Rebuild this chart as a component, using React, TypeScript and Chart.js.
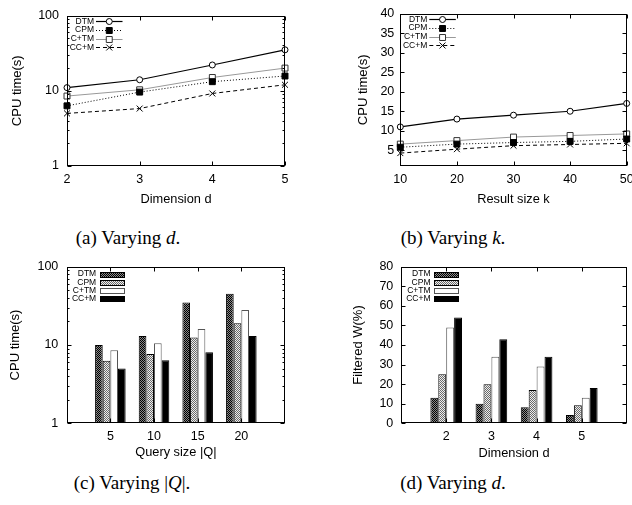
import React, { useEffect, useRef } from 'react';
import { Chart, registerables } from 'chart.js';

Chart.register(...registerables);

const FONT = "'Liberation Sans', Arial, Helvetica, sans-serif";
Chart.defaults.font.family = FONT;
Chart.defaults.color = '#000';

// ---------- data ----------
const seriesNames = ['DTM', 'CPM', 'C+TM', 'CC+M'];

// (a) Varying d
const dimValues = [2, 3, 4, 5];
const aDTM = [11, 14, 22, 35];
const aCPM = [6.3, 9.6, 13.2, 15.7];
const aCTM = [8.5, 10.3, 15, 20];
const aCCM = [5, 5.8, 9.2, 12];

// (b) Varying k
const kValues = [10, 20, 30, 40, 50];
const bDTM = [11, 13, 14, 15, 17];
const bCPM = [5.8, 6.6, 7, 7.3, 7.9];
const bCTM = [6.6, 7.5, 8.4, 8.8, 9.2];
const bCCM = [4.3, 5.3, 6.2, 6.5, 6.8];

// (c) Varying |Q|
const queryLabels = ['5', '10', '15', '20'];
const cDTM = [10, 13, 35, 45];
const cCPM = [6.3, 7.7, 12.5, 19];
const cCTM = [8.6, 10.5, 16, 28];
const cCCM = [5, 6.4, 8.1, 13];

// (d) Varying d (filtered)
const dimLabels = ['2', '3', '4', '5'];
const dDTM = [13, 10, 8.2, 4.2];
const dCPM = [25, 20, 17, 9.2];
const dCTM = [49, 34, 29, 13];
const dCCM = [54, 43, 34, 18];

// tick labels
const logTicks = [1, 10, 100];
const kTicks = [5, 10, 15, 20, 25, 30, 35, 40];
const pctTicks = [0, 10, 20, 30, 40, 50, 60, 70, 80];

// ---------- styles ----------
const lineStyles = [
  { borderColor: '#000', borderWidth: 1.2, borderDash: [], pointStyle: 'circle', pointRadius: 3, pointBackgroundColor: '#fff', pointBorderColor: '#000' },
  { borderColor: '#000', borderWidth: 1, borderDash: [1, 2], pointStyle: 'rect', pointRadius: 4.2, pointBackgroundColor: '#000', pointBorderColor: '#000' },
  { borderColor: '#999', borderWidth: 1, borderDash: [], pointStyle: 'rect', pointRadius: 4.2, pointBackgroundColor: '#fff', pointBorderColor: '#333' },
  { borderColor: '#000', borderWidth: 1, borderDash: [4, 3], pointStyle: 'crossRot', pointRadius: 4.2, pointBackgroundColor: '#000', pointBorderColor: '#000' },
];

function makePattern(c1: string, c2: string): CanvasPattern | string {
  const p = document.createElement('canvas');
  p.width = 2;
  p.height = 2;
  const g = p.getContext('2d');
  if (!g) return c1;
  g.fillStyle = c2;
  g.fillRect(0, 0, 2, 2);
  g.fillStyle = c1;
  g.fillRect(0, 0, 1, 1);
  g.fillRect(1, 1, 1, 1);
  const ctx = document.createElement('canvas').getContext('2d');
  return (ctx && ctx.createPattern(p, 'repeat')) || c1;
}

function drawMarker(ctx: CanvasRenderingContext2D, style: string, x: number, y: number, r: number, fill: string, stroke: string) {
  ctx.save();
  ctx.setLineDash([]);
  ctx.lineWidth = 1;
  ctx.strokeStyle = stroke;
  ctx.fillStyle = fill;
  ctx.beginPath();
  if (style === 'circle') {
    ctx.arc(x, y, r, 0, Math.PI * 2);
    ctx.fill();
    ctx.stroke();
  } else if (style === 'rect') {
    const s = r * Math.SQRT1_2;
    ctx.rect(x - s, y - s, 2 * s, 2 * s);
    ctx.fill();
    ctx.stroke();
  } else {
    const s = r * Math.SQRT1_2;
    ctx.moveTo(x - s, y - s);
    ctx.lineTo(x + s, y + s);
    ctx.moveTo(x - s, y + s);
    ctx.lineTo(x + s, y - s);
    ctx.stroke();
  }
  ctx.restore();
}

// gnuplot-like frame with inward ticks
const framePlugin = {
  id: 'gnuFrame',
  afterDatasetsDraw(chart: any) {
    const { ctx, chartArea: a } = chart;
    const xs = chart.scales.x;
    const ys = chart.scales.y;
    const L = Math.round(a.left) + 0.5;
    const R = Math.round(a.right) - 0.5;
    const T = Math.round(a.top) + 0.5;
    const B = Math.round(a.bottom) - 0.5;
    ctx.save();
    ctx.strokeStyle = '#000';
    ctx.lineWidth = 1;
    ctx.setLineDash([]);
    ctx.beginPath();
    const hTick = (py: number, len: number) => {
      const y = Math.round(py) + 0.5;
      ctx.moveTo(L, y); ctx.lineTo(L + len, y);
      ctx.moveTo(R, y); ctx.lineTo(R - len, y);
    };
    const vTick = (px: number, len: number) => {
      const x = Math.round(px) + 0.5;
      ctx.moveTo(x, B); ctx.lineTo(x, B - len);
      ctx.moveTo(x, T); ctx.lineTo(x, T + len);
    };
    ys.ticks.forEach((t: any) => hTick(ys.getPixelForValue(t.value), 4));
    if (ys.type === 'logarithmic') {
      for (let d = ys.min; d < ys.max; d *= 10) {
        for (let m = 2; m <= 9; m++) hTick(ys.getPixelForValue(d * m), 2);
      }
    }
    xs.ticks.forEach((t: any, i: number) => {
      if (xs.type === 'category') {
        const lab = xs.getLabelForValue(t.value);
        if (lab !== '') vTick(xs.getPixelForTick(i), 4);
      } else {
        vTick(xs.getPixelForValue(t.value), 4);
      }
    });
    ctx.stroke();
    ctx.strokeRect(L, T, R - L, B - T);
    ctx.restore();
  },
};

function legendPlugin(kind: 'line' | 'bar', cfg: { first: number; gap: number; textRight: number; s0: number; s1: number }) {
  return {
    id: 'insideLegend',
    afterDraw(chart: any) {
      const { ctx, chartArea: a } = chart;
      ctx.save();
      ctx.font = `8.5px ${FONT}`;
      ctx.textAlign = 'right';
      ctx.textBaseline = 'middle';
      chart.data.datasets.forEach((ds: any, i: number) => {
        const y = a.top + cfg.first + i * cfg.gap;
        ctx.fillStyle = '#000';
        ctx.fillText(ds.label, a.left + cfg.textRight, y);
        if (kind === 'line') {
          ctx.save();
          ctx.strokeStyle = ds.borderColor;
          ctx.lineWidth = ds.borderWidth;
          ctx.setLineDash(ds.borderDash || []);
          ctx.beginPath();
          ctx.moveTo(a.left + cfg.s0, Math.round(y) + 0.5);
          ctx.lineTo(a.left + cfg.s1, Math.round(y) + 0.5);
          ctx.stroke();
          ctx.restore();
          drawMarker(ctx, ds.pointStyle, a.left + (cfg.s0 + cfg.s1) / 2, Math.round(y) + 0.5, ds.pointRadius, ds.pointBackgroundColor, ds.pointBorderColor);
        } else {
          const x0 = Math.round(a.left + cfg.s0) + 0.5;
          const w = Math.round(cfg.s1 - cfg.s0);
          const y0 = Math.round(y - 2.5) + 0.5;
          ctx.fillStyle = ds.backgroundColor;
          ctx.fillRect(x0, y0, w, 5);
          ctx.strokeStyle = ds.borderColor;
          ctx.lineWidth = 1;
          ctx.strokeRect(x0, y0, w, 5);
        }
      });
      ctx.restore();
    },
  };
}

function setTicks(values: number[]) {
  return (s: any) => {
    s.ticks = values.map((v) => ({ value: v }));
  };
}

function makeScales(o: {
  xType: string; xMin?: number; xMax?: number; xTicks?: number[]; xTitle: string; xHeight: number; xPad: number; xTitlePad: number;
  yType: string; yMin: number; yMax: number; yTicks: number[]; yTitle: string; yWidth: number; yPad: number; yTitlePad: number;
}) {
  const x: any = {
    type: o.xType,
    grid: { display: false, drawTicks: false },
    border: { display: false },
    ticks: { padding: o.xPad, font: { size: 12.5 }, color: '#000', maxRotation: 0, autoSkip: false },
    title: { display: true, text: o.xTitle, font: { size: 12.8 }, color: '#000', padding: { top: 0, bottom: o.xTitlePad } },
    afterFit: (s: any) => { s.height = o.xHeight; },
  };
  if (o.xType === 'linear') {
    x.min = o.xMin;
    x.max = o.xMax;
    x.afterBuildTicks = setTicks(o.xTicks || []);
    x.ticks.callback = (v: any) => String(v);
  } else {
    x.offset = false;
  }
  const y: any = {
    type: o.yType,
    min: o.yMin,
    max: o.yMax,
    afterBuildTicks: setTicks(o.yTicks),
    grid: { display: false, drawTicks: false },
    border: { display: false },
    ticks: { padding: o.yPad, font: { size: 12.5 }, color: '#000', callback: (v: any) => String(v), autoSkip: false },
    title: { display: true, text: o.yTitle, font: { size: 13 }, color: '#000', padding: { top: o.yTitlePad, bottom: 0 } },
    afterFit: (s: any) => { s.width = o.yWidth; },
  };
  return { x, y };
}

function lineDatasets(xs: number[], series: number[][]) {
  return series.map((vals, i) => ({
    label: seriesNames[i],
    data: xs.map((x, j) => ({ x, y: vals[j] })),
    ...lineStyles[i],
    pointBorderWidth: 1,
    tension: 0,
    clip: false,
  }));
}

function barDatasets(series: number[][]) {
  const fills = [makePattern('#000', '#8a8a8a'), makePattern('#6a6a6a', '#eeeeee'), '#fff', '#000'];
  const borders = ['#000', '#000', '#555', '#000'];
  return series.map((vals, i) => ({
    label: seriesNames[i],
    data: [null, ...vals, null],
    backgroundColor: fills[i],
    borderColor: borders[i],
    borderWidth: 1,
    barPercentage: 1,
    categoryPercentage: 0.7,
  }));
}

const lineLegend = { first: 5.7, gap: 8.7, textRight: 27, s0: 29, s1: 55.5 };
const barLegend = { first: 7.3, gap: 8.3, textRight: 29.5, s0: 33, s1: 57 };

const commonOpts = {
  responsive: false,
  animation: false as const,
  events: [] as any[],
  plugins: { legend: { display: false }, tooltip: { enabled: false } },
};

function buildA(): any {
  return {
    type: 'line',
    data: { datasets: lineDatasets(dimValues, [aDTM, aCPM, aCTM, aCCM]) },
    options: {
      ...commonOpts,
      layout: { padding: { left: 0, right: 31, top: 10, bottom: 0 } },
      scales: makeScales({
        xType: 'linear', xMin: 2, xMax: 5, xTicks: dimValues, xTitle: 'Dimension d', xHeight: 49, xPad: 6, xTitlePad: 7.5,
        yType: 'logarithmic', yMin: 1, yMax: 100, yTicks: logTicks, yTitle: 'CPU time(s)', yWidth: 67, yPad: 8, yTitlePad: 9.2,
      }),
    },
    plugins: [framePlugin, legendPlugin('line', lineLegend)],
  };
}

function buildB(): any {
  return {
    type: 'line',
    data: { datasets: lineDatasets(kValues, [bDTM, bCPM, bCTM, bCCM]) },
    options: {
      ...commonOpts,
      layout: { padding: { left: 0, right: 19.3, top: 10, bottom: 0 } },
      scales: makeScales({
        xType: 'linear', xMin: 10, xMax: 50, xTicks: kValues, xTitle: 'Result size k', xHeight: 49, xPad: 6.5, xTitlePad: 8.2,
        yType: 'linear', yMin: 1, yMax: 40, yTicks: kTicks, yTitle: 'CPU time(s)', yWidth: 84.3, yPad: 6, yTitlePad: 39.2,
      }),
    },
    plugins: [framePlugin, legendPlugin('line', lineLegend)],
  };
}

function buildC(): any {
  return {
    type: 'bar',
    data: { labels: ['', ...queryLabels, ''], datasets: barDatasets([cDTM, cCPM, cCTM, cCCM]) },
    options: {
      ...commonOpts,
      layout: { padding: { left: 0, right: 31, top: 16.7, bottom: 0 } },
      scales: makeScales({
        xType: 'category', xTitle: 'Query size |Q|', xHeight: 41.7, xPad: 6.2, xTitlePad: 4.5,
        yType: 'logarithmic', yMin: 1, yMax: 100, yTicks: logTicks, yTitle: 'CPU time(s)', yWidth: 66.7, yPad: 8.4, yTitlePad: 7.5,
      }),
    },
    plugins: [framePlugin, legendPlugin('bar', barLegend)],
  };
}

function buildD(): any {
  return {
    type: 'bar',
    data: { labels: ['', ...dimLabels, ''], datasets: barDatasets([dDTM, dCPM, dCTM, dCCM]) },
    options: {
      ...commonOpts,
      layout: { padding: { left: 0, right: 19, top: 16.7, bottom: 0 } },
      scales: makeScales({
        xType: 'category', xTitle: 'Dimension d', xHeight: 41.7, xPad: 6.2, xTitlePad: 3.5,
        yType: 'linear', yMin: 0, yMax: 80, yTicks: pctTicks, yTitle: 'Filtered W(%)', yWidth: 85, yPad: 7.7, yTitlePad: 34.2,
      }),
    },
    plugins: [framePlugin, legendPlugin('bar', barLegend)],
  };
}

function Panel({ build, left, top, width, height }: { build: () => any; left: number; top: number; width: number; height: number }) {
  const ref = useRef<HTMLCanvasElement>(null);
  useEffect(() => {
    if (!ref.current) return;
    const chart = new Chart(ref.current, build());
    return () => chart.destroy();
  }, [build]);
  return (
    <canvas
      ref={ref}
      width={width}
      height={height}
      style={{ position: 'absolute', left, top, width, height, display: 'block' }}
    />
  );
}

function Caption({ cx, cy, children }: { cx: number; cy: number; children: React.ReactNode }) {
  return (
    <div
      style={{
        position: 'absolute',
        left: cx,
        top: cy - 12,
        transform: 'translateX(-50%)',
        whiteSpace: 'nowrap',
        fontFamily: "'Liberation Serif', 'Times New Roman', serif",
        fontSize: 19,
        lineHeight: '24px',
        color: '#000',
      }}
    >
      {children}
    </div>
  );
}

export default function App() {
  return (
    <div style={{ position: 'absolute', left: 0, top: 0, width: 632, height: 505, overflow: 'hidden', background: '#fff' }}>
      <Panel build={buildA} left={0} top={0} width={316} height={215} />
      <Panel build={buildB} left={316} top={0} width={330} height={215} />
      <Panel build={buildC} left={0} top={250} width={316} height={215} />
      <Panel build={buildD} left={316} top={250} width={330} height={215} />
      <Caption cx={128} cy={238}>(a) Varying <i>d</i>.</Caption>
      <Caption cx={453} cy={238}>(b) Varying <i>k</i>.</Caption>
      <Caption cx={132} cy={483}>(c) Varying |<i>Q</i>|.</Caption>
      <Caption cx={453} cy={483}>(d) Varying <i>d</i>.</Caption>
    </div>
  );
}
